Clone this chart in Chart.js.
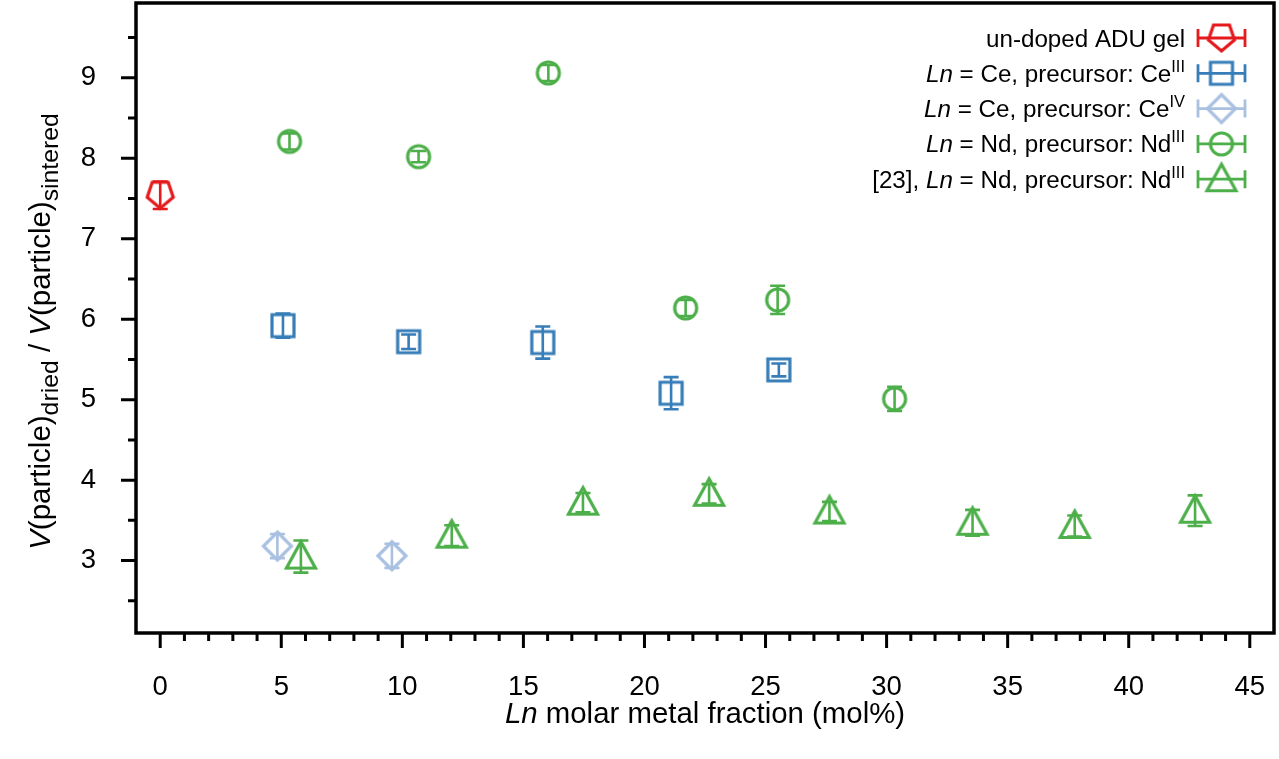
<!DOCTYPE html>
<html><head><meta charset="utf-8">
<script src="https://cdn.jsdelivr.net/npm/chart.js@4.4.0/dist/chart.umd.min.js"></script>
<style>html,body{margin:0;padding:0;background:#fff}canvas{display:block}</style>
</head><body>
<canvas id="c" width="1279" height="759"></canvas>
<script>
// ---- data ----
const xUndoped = [0];
const yUndoped = [7.54];
const eUndoped = [0.17];

const xCe3 = [5.07, 10.26, 15.8, 21.1, 25.55];
const yCe3 = [5.92, 5.72, 5.71, 5.08, 5.37];
const eCe3 = [0.15, 0.09, 0.2, 0.2, 0.08];

const xCe4 = [4.84, 9.57];
const yCe4 = [3.18, 3.06];
const eCe4 = [0.15, 0.15];

const xNd = [5.34, 10.67, 16.03, 21.7, 25.5, 30.33];
const yNd = [8.21, 8.02, 9.06, 6.14, 6.24, 5.01];
const eNd = [0.1, 0.07, 0.1, 0.1, 0.175, 0.15];

const xRef = [5.81, 12.04, 17.46, 22.67, 27.64, 33.55, 37.77, 42.74];
const yRef = [3.05, 3.31, 3.72, 3.83, 3.61, 3.47, 3.43, 3.62];
const eRef = [0.2, 0.13, 0.12, 0.12, 0.12, 0.16, 0.13, 0.19];

const xTicks = [0, 5, 10, 15, 20, 25, 30, 35, 40, 45];
const yTicks = [3, 4, 5, 6, 7, 8, 9];
const xMinor = [1,2,3,4,6,7,8,9,11,12,13,14,16,17,18,19,21,22,23,24,26,27,28,29,31,32,33,34,36,37,38,39,41,42,43,44];
const yMinor = [2.5,3.5,4.5,5.5,6.5,7.5,8.5,9.5];

const labels = [
  [{t:'un-doped ADU gel'}],
  [{t:'Ln', it:1},{t:' = Ce, precursor: Ce'},{t:'III', sup:1}],
  [{t:'Ln', it:1},{t:' = Ce, precursor: Ce'},{t:'IV', sup:1}],
  [{t:'Ln', it:1},{t:' = Nd, precursor: Nd'},{t:'III', sup:1}],
  [{t:'[23], '},{t:'Ln', it:1},{t:' = Nd, precursor: Nd'},{t:'III', sup:1}]
];

// ---- styles ----
const FONT = '"Liberation Sans", Arial, sans-serif';
const RED = '#e41a1c', BLUE = '#377eb8', LBLUE = '#a9c0e1', GREEN = '#4daf4a';

function makeMarker(kind, color) {
  const s = 44, m = s / 2;
  const c = document.createElement('canvas'); c.width = s; c.height = s;
  const g = c.getContext('2d');
  g.strokeStyle = color; g.lineWidth = 3.2; g.lineJoin = 'miter';
  g.beginPath();
  if (kind === 'pentagon') {
    g.moveTo(m - 8, m - 13); g.lineTo(m + 8, m - 13); g.lineTo(m + 13, m + 2);
    g.lineTo(m, m + 13); g.lineTo(m - 13, m + 2); g.closePath();
  } else if (kind === 'square') {
    g.rect(m - 11, m - 11, 22, 22);
  } else if (kind === 'diamond') {
    g.moveTo(m, m - 14); g.lineTo(m + 14, m); g.lineTo(m, m + 14); g.lineTo(m - 14, m); g.closePath();
  } else if (kind === 'circle') {
    g.arc(m, m, 11, 0, Math.PI * 2);
  } else if (kind === 'triangle') {
    g.moveTo(m, m - 15); g.lineTo(m + 14.5, m + 11.5); g.lineTo(m - 14.5, m + 11.5); g.closePath();
  }
  g.stroke();
  return c;
}

const mk = {
  pent: makeMarker('pentagon', RED),
  sq: makeMarker('square', BLUE),
  dia: makeMarker('diamond', LBLUE),
  cir: makeMarker('circle', GREEN),
  tri: makeMarker('triangle', GREEN)
};

function pts(xs, ys) { return xs.map((x, i) => ({x: x, y: ys[i]})); }

const datasets = [
  {label: 'undoped', data: pts(xUndoped, yUndoped), pointStyle: mk.pent, yErr: eUndoped, col: RED},
  {label: 'Ce3', data: pts(xCe3, yCe3), pointStyle: mk.sq, yErr: eCe3, col: BLUE},
  {label: 'Ce4', data: pts(xCe4, yCe4), pointStyle: mk.dia, yErr: eCe4, col: LBLUE},
  {label: 'Nd', data: pts(xNd, yNd), pointStyle: mk.cir, yErr: eNd, col: GREEN},
  {label: 'Ref', data: pts(xRef, yRef), pointStyle: mk.tri, yErr: eRef, col: GREEN}
].map(d => Object.assign(d, {pointRadius: 12, pointHoverRadius: 12, showLine: false, clip: false}));

// ---- rich text helper ----
function richDraw(ctx, segs, x, y, size, align, k) {
  k = k || 0.7;
  const parts = segs.map(s => {
    const sz = (s.sup || s.sub) ? size * k : size;
    const f = (s.it ? 'italic ' : '') + sz + 'px ' + FONT;
    ctx.font = f;
    return {t: s.t, f: f, w: ctx.measureText(s.t).width, dy: s.sup ? -size * 0.42 : (s.sub ? size * 0.28 : 0)};
  });
  const total = parts.reduce((a, p) => a + p.w, 0);
  let cx = align === 'right' ? x - total : (align === 'center' ? x - total / 2 : x);
  ctx.textAlign = 'left'; ctx.textBaseline = 'alphabetic';
  parts.forEach(p => { ctx.font = p.f; ctx.fillText(p.t, cx, y + p.dy); cx += p.w; });
}

// ---- plugins ----
const errPlugin = {
  id: 'err',
  beforeDatasetsDraw(chart) {
    const ctx = chart.ctx, ys = chart.scales.y, xs = chart.scales.x;
    ctx.save();
    chart.data.datasets.forEach(ds => {
      ctx.strokeStyle = ds.col; ctx.lineWidth = 2.6;
      ds.data.forEach((p, i) => {
        const px = xs.getPixelForValue(p.x);
        const y1 = ys.getPixelForValue(p.y + ds.yErr[i]);
        const y2 = ys.getPixelForValue(p.y - ds.yErr[i]);
        ctx.beginPath();
        ctx.moveTo(px, y1); ctx.lineTo(px, y2);
        ctx.moveTo(px - 7.5, y1); ctx.lineTo(px + 7.5, y1);
        ctx.moveTo(px - 7.5, y2); ctx.lineTo(px + 7.5, y2);
        ctx.stroke();
      });
    });
    ctx.restore();
  }
};

const framePlugin = {
  id: 'frame',
  afterDatasetsDraw(chart) {
    const ctx = chart.ctx, a = chart.chartArea, xs = chart.scales.x, ys = chart.scales.y;
    ctx.save();
    ctx.strokeStyle = '#000'; ctx.lineWidth = 3.5; ctx.lineCap = 'butt';
    ctx.strokeRect(a.left, a.top, a.right - a.left, a.bottom - a.top);
    ctx.lineWidth = 3;
    ctx.beginPath();
    xTicks.forEach(v => { const p = xs.getPixelForValue(v); ctx.moveTo(p, a.bottom); ctx.lineTo(p, a.bottom + 15); });
    xMinor.forEach(v => { const p = xs.getPixelForValue(v); ctx.moveTo(p, a.bottom); ctx.lineTo(p, a.bottom + 8); });
    yTicks.forEach(v => { const p = ys.getPixelForValue(v); ctx.moveTo(a.left, p); ctx.lineTo(a.left - 15, p); });
    yMinor.forEach(v => { const p = ys.getPixelForValue(v); ctx.moveTo(a.left, p); ctx.lineTo(a.left - 8, p); });
    ctx.stroke();
    ctx.restore();
  }
};

const legendPlugin = {
  id: 'leg',
  afterDraw(chart) {
    const ctx = chart.ctx;
    ctx.save();
    chart.data.datasets.forEach((ds, i) => {
      const yy = 38 + i * 35.3;
      ctx.fillStyle = '#000';
      richDraw(ctx, labels[i], 1185, yy + 8.5, 24.2, 'right', 0.68);
      ctx.strokeStyle = ds.col; ctx.lineWidth = 2.8;
      ctx.beginPath();
      ctx.moveTo(1198, yy); ctx.lineTo(1245, yy);
      ctx.moveTo(1198, yy - 9); ctx.lineTo(1198, yy + 9);
      ctx.moveTo(1245, yy - 9); ctx.lineTo(1245, yy + 9);
      ctx.stroke();
      const im = ds.pointStyle;
      ctx.drawImage(im, 1221.5 - im.width / 2, yy - im.height / 2);
    });
    // axis titles
    ctx.fillStyle = '#000';
    richDraw(ctx, [{t:'Ln', it:1}, {t:' molar metal fraction (mol%)'}], 705, 723, 29.4, 'center');
    ctx.translate(50, 331.5);
    ctx.rotate(-Math.PI / 2);
    richDraw(ctx, [{t:'V', it:1}, {t:'(particle)'}, {t:'dried', sub:1}, {t:' / '}, {t:'V', it:1}, {t:'(particle)'}, {t:'sintered', sub:1}], 0, 0, 29.5, 'center', 0.84);
    ctx.restore();
  }
};

new Chart(document.getElementById('c'), {
  type: 'scatter',
  data: {datasets: datasets},
  options: {
    responsive: false, animation: false, devicePixelRatio: 1,
    layout: {autoPadding: false, padding: {top: 3, right: 5, left: 0, bottom: 0}},
    plugins: {legend: {display: false}, tooltip: {enabled: false}},
    events: [],
    scales: {
      x: {
        type: 'linear', min: -1, max: 46,
        afterFit(s) { s.height = 126; s.paddingLeft = 0; s.paddingRight = 0; },
        afterBuildTicks(s) { s.ticks = xTicks.map(v => ({value: v})); },
        grid: {display: false}, border: {display: false},
        ticks: {font: {family: FONT, size: 27.5}, color: '#000', padding: 30, maxRotation: 0, autoSkip: false}
      },
      y: {
        type: 'linear', min: 2.1, max: 9.93,
        afterFit(s) { s.width = 136; s.paddingTop = 0; s.paddingBottom = 0; },
        afterBuildTicks(s) { s.ticks = yTicks.map(v => ({value: v})); },
        grid: {display: false}, border: {display: false},
        ticks: {font: {family: FONT, size: 27.5}, color: '#000', padding: 32, autoSkip: false}
      }
    }
  },
  plugins: [errPlugin, framePlugin, legendPlugin]
});
</script>
</body></html>
